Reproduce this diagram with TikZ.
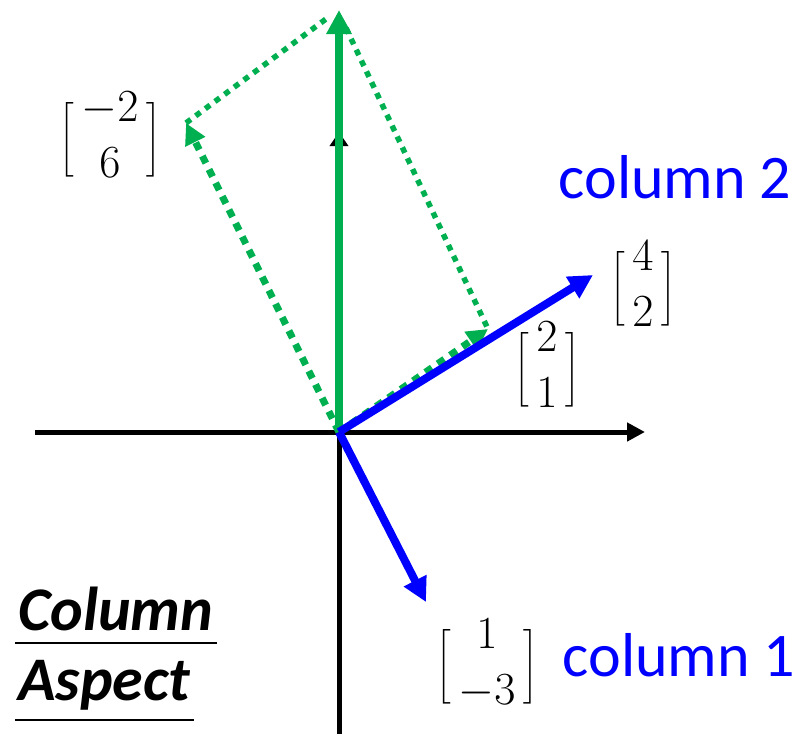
\documentclass[tikz,border=0pt]{standalone}
\usepackage{fix-cm}
\usepackage{amsmath}
\usepackage[no-math]{fontspec}
\setmainfont{Carlito}
\usepackage{xcolor}
\usepackage{tikz}
\usetikzlibrary{arrows.meta, calc, positioning}
\definecolor{vgreen}{RGB}{0,176,80}
\newcommand{\brk}[1]{{\fontsize{39}{45}\selectfont$\Big#1$}}
\newcommand{\colvec}[2]{\brk[\,$\begin{matrix}#1\\#2\end{matrix}$\,\brk]}

\tikzset{
    mat/.style={inner sep=0pt, font=\fontsize{46}{56}\selectfont},
    lbl/.style={inner sep=0pt, blue, font=\fontsize{62}{70}\selectfont},
    ttl/.style={inner sep=0pt, anchor=base west, font=\fontsize{62}{70}\selectfont\bfseries\itshape},
    vec/.style={line width=8pt, -{Triangle[length=24pt,width=24pt]}},
    dotvec/.style={line width=7pt, dash pattern=on 8pt off 7pt, -{Triangle[length=21pt,width=21pt]}},
    thindot/.style={vgreen, line width=5.5pt, dash pattern=on 6pt off 6pt}
}

\begin{document}
\begin{tikzpicture}[x=1pt, y=-1pt]
    \useasboundingbox (0,0) rectangle (798,734);
    % Các điểm
    \coordinate (O) at (339,432);
    \coordinate (xl) at (35,432);
    \coordinate (xr) at (645,432);
    \coordinate (yb) at (339,734);
    \coordinate (yt) at (339,132);
    \coordinate (v21) at (488,329);
    \coordinate (v62) at (186,123);
    \coordinate (s) at (339,10);
    \coordinate (v42) at (593,275);
    \coordinate (v13) at (426,602);
    
    % Hệ trục
    \draw[line width=5pt, -{Triangle[length=18pt,width=18pt]}] (xl) -- (xr);
    \draw[line width=5pt, -{Triangle[length=14pt,width=18pt]}] (yb) -- (yt);
    
    % Hình bình hành
    \draw[thindot] (v62) -- (330,16);
    \draw[thindot] (346,28) -- (v21);
    
    % Vectơ màu xanh lá
    \draw[vgreen, dotvec] (O) -- (v62);
    \draw[vgreen, dotvec] (O) -- (v21);
    \draw[vgreen, vec] (O) -- (s);
    
    % Vectơ màu xanh dương
    \draw[blue, vec] (O) -- (v42);
    \draw[blue, vec] (O) -- (v13);
    
    % Nhãn
    \node[mat] (m62) at (110,138) {\colvec{-2}{6}};
    \node[mat] (m42) at (643,287) {\colvec{4}{2}};
    \node[mat] (m21) at (547,368) {\colvec{2}{1}};
    \node[mat] (m13) at (487,665) {\colvec{1}{-3}};
    \node[lbl] (c2) at (675,177) {column 2};
    \node[lbl] (c1) at (679,655) {column 1};
    
    % Tiêu đề
    \node[ttl] (t1) at (18,630) {Column};
    \node[ttl] (t2) at (18,700) {Aspect};
    \draw[line width=2pt] ($(t1.base west)+(-3,13)$) -- ($(t1.base east)+(3,13)$);
    \draw[line width=2pt] ($(t2.base west)+(-3,20)$) -- ($(t2.base east)+(3,20)$);
\end{tikzpicture}
\end{document}
